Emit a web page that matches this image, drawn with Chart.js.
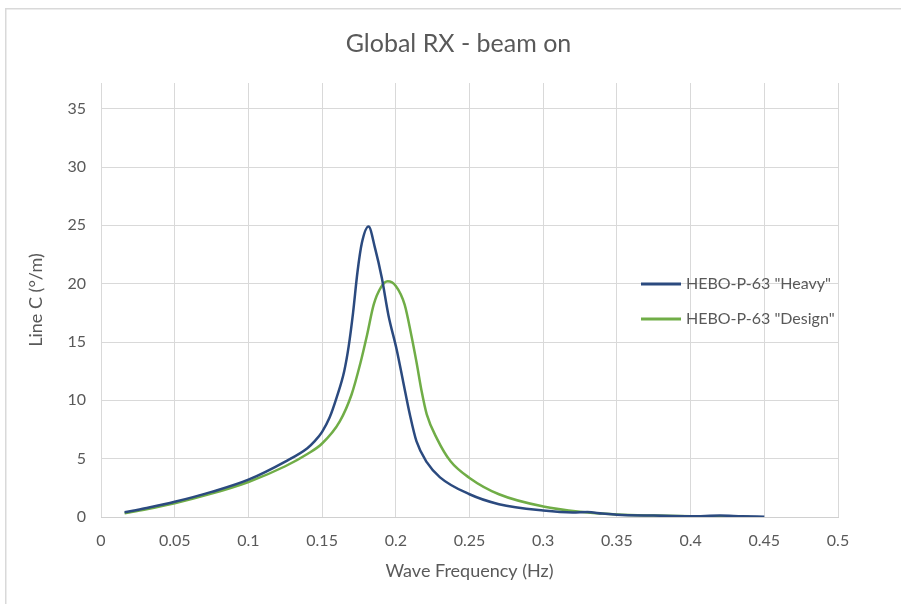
<!DOCTYPE html>
<html>
<head>
<meta charset="utf-8">
<script src="https://cdn.jsdelivr.net/npm/chart.js@4/dist/chart.umd.min.js"></script>
<style>
  html, body { margin: 0; padding: 0; background: #ffffff; }
  #wrap { width: 901px; height: 604px; }
</style>
</head>
<body>
<div id="wrap"><canvas id="c" width="901" height="604"></canvas></div>
<script>
const titleText = 'Global RX - beam on';
const xAxisTitle = 'Wave Frequency (Hz)';
const yAxisTitle = 'Line C (°/m)';
const seriesNames = ['HEBO-P-63 "Heavy"', 'HEBO-P-63 "Design"'];

const heavyFreq = [0.016, 0.03, 0.05, 0.075, 0.10, 0.125, 0.14, 0.145, 0.15, 0.155, 0.16, 0.165, 0.168, 0.171, 0.174, 0.177, 0.1815, 0.186, 0.1905, 0.195, 0.2005, 0.205, 0.2095, 0.214, 0.221, 0.23, 0.25, 0.27, 0.30, 0.32, 0.33, 0.34, 0.35, 0.375, 0.40, 0.42, 0.435, 0.45];
const heavyVals = [0.40, 0.75, 1.30, 2.15, 3.20, 4.75, 5.9, 6.5, 7.3, 8.5, 10.3, 12.5, 14.6, 17.5, 21.0, 23.5, 24.9, 23.0, 20.5, 17.3, 14.4, 11.6, 8.8, 6.5, 4.7, 3.4, 1.95, 1.1, 0.55, 0.38, 0.42, 0.3, 0.2, 0.12, 0.06, 0.12, 0.06, 0.03];

const designFreq = [0.016, 0.03, 0.05, 0.075, 0.10, 0.125, 0.14, 0.15, 0.162, 0.17, 0.176, 0.1805, 0.185, 0.19, 0.1945, 0.2, 0.206, 0.2105, 0.214, 0.2175, 0.221, 0.228, 0.237, 0.25, 0.27, 0.30, 0.325, 0.35, 0.375, 0.40, 0.44];
const designVals = [0.33, 0.65, 1.18, 2.0, 3.0, 4.35, 5.4, 6.3, 8.2, 10.5, 13.2, 15.6, 18.2, 19.7, 20.2, 19.8, 18.2, 15.6, 13.3, 10.8, 8.8, 6.7, 4.8, 3.35, 1.95, 0.9, 0.45, 0.22, 0.12, 0.06, 0.02];

const xTickStep = 0.05;
const yTickStep = 5;

const colors = ['#2B4A7F', '#70AD47'];
const FONT = 'Lato, "Open Sans", sans-serif';
const TXT = '#595959';

function pts(xs, ys) { return xs.map((x, i) => ({x: x, y: ys[i]})); }

const frame = {
  id: 'frame',
  beforeDraw(chart) {
    const ctx = chart.ctx;
    ctx.save();
    ctx.fillStyle = '#ffffff';
    ctx.fillRect(0, 0, chart.width, chart.height);
    ctx.strokeStyle = '#D9D9D9';
    ctx.lineWidth = 1.5;
    ctx.strokeRect(5.75, 8.75, 1000, 1000);
    ctx.restore();
  }
};

const legendBox = {
  id: 'legendBox',
  afterDraw(chart) {
    const ctx = chart.ctx;
    ctx.save();
    const ys = [284, 319];
    chart.data.datasets.forEach((ds, i) => {
      ctx.strokeStyle = ds.borderColor;
      ctx.lineWidth = 3;
      ctx.beginPath();
      ctx.moveTo(641, ys[i]);
      ctx.lineTo(681, ys[i]);
      ctx.stroke();
      ctx.fillStyle = TXT;
      ctx.font = '16px ' + FONT;
      ctx.textBaseline = 'middle';
      ctx.textAlign = 'left';
      ctx.fillText(ds.label, 686, ys[i]);
    });
    ctx.restore();
  }
};

new Chart(document.getElementById('c'), {
  type: 'line',
  data: {
    datasets: [
      { label: seriesNames[0], data: pts(heavyFreq, heavyVals), borderColor: colors[0], backgroundColor: colors[0], borderWidth: 2.5, pointRadius: 0, cubicInterpolationMode: 'monotone', fill: false },
      { label: seriesNames[1], data: pts(designFreq, designVals), borderColor: colors[1], backgroundColor: colors[1], borderWidth: 2.5, pointRadius: 0, cubicInterpolationMode: 'monotone', fill: false }
    ]
  },
  options: {
    responsive: false,
    animation: false,
    layout: { padding: { left: 16, top: 0, right: 0, bottom: 0 } },
    plugins: {
      legend: { display: false },
      tooltip: { enabled: false },
      title: {
        display: true,
        text: titleText,
        color: TXT,
        font: { family: FONT, size: 25, weight: 'normal' },
        padding: { top: 29, bottom: 24 }
      }
    },
    scales: {
      x: {
        type: 'linear',
        min: 0, max: 0.5,
        afterFit(s) { s.height = 87; },
        ticks: {
          stepSize: xTickStep,
          color: TXT,
          padding: 14,
          font: { family: FONT, size: 16 },
          callback: v => String(Math.round(v * 100) / 100)
        },
        grid: { color: '#D9D9D9', lineWidth: 1, drawTicks: false },
        border: { color: '#D0D0D0', width: 1 },
        title: { display: true, text: xAxisTitle, color: TXT, font: { family: FONT, size: 18 }, padding: { top: 0, bottom: 22 } }
      },
      y: {
        min: 0, max: 37.2,
        afterFit(s) { s.width = 85; },
        ticks: {
          stepSize: yTickStep,
          includeBounds: false,
          color: TXT,
          padding: 15,
          font: { family: FONT, size: 16 }
        },
        grid: { color: '#D9D9D9', lineWidth: 1, drawTicks: false },
        border: { display: false },
        title: { display: true, text: yAxisTitle, color: TXT, font: { family: FONT, size: 18 }, padding: { top: 9, bottom: 0 } }
      },
      yRight: {
        position: 'right',
        min: 0, max: 1,
        afterFit(s) { s.width = 63; },
        ticks: { display: false },
        grid: { display: false, drawOnChartArea: false, drawTicks: false },
        border: { display: false },
        title: { display: false }
      }
    }
  },
  plugins: [frame, legendBox]
});
</script>
</body>
</html>
